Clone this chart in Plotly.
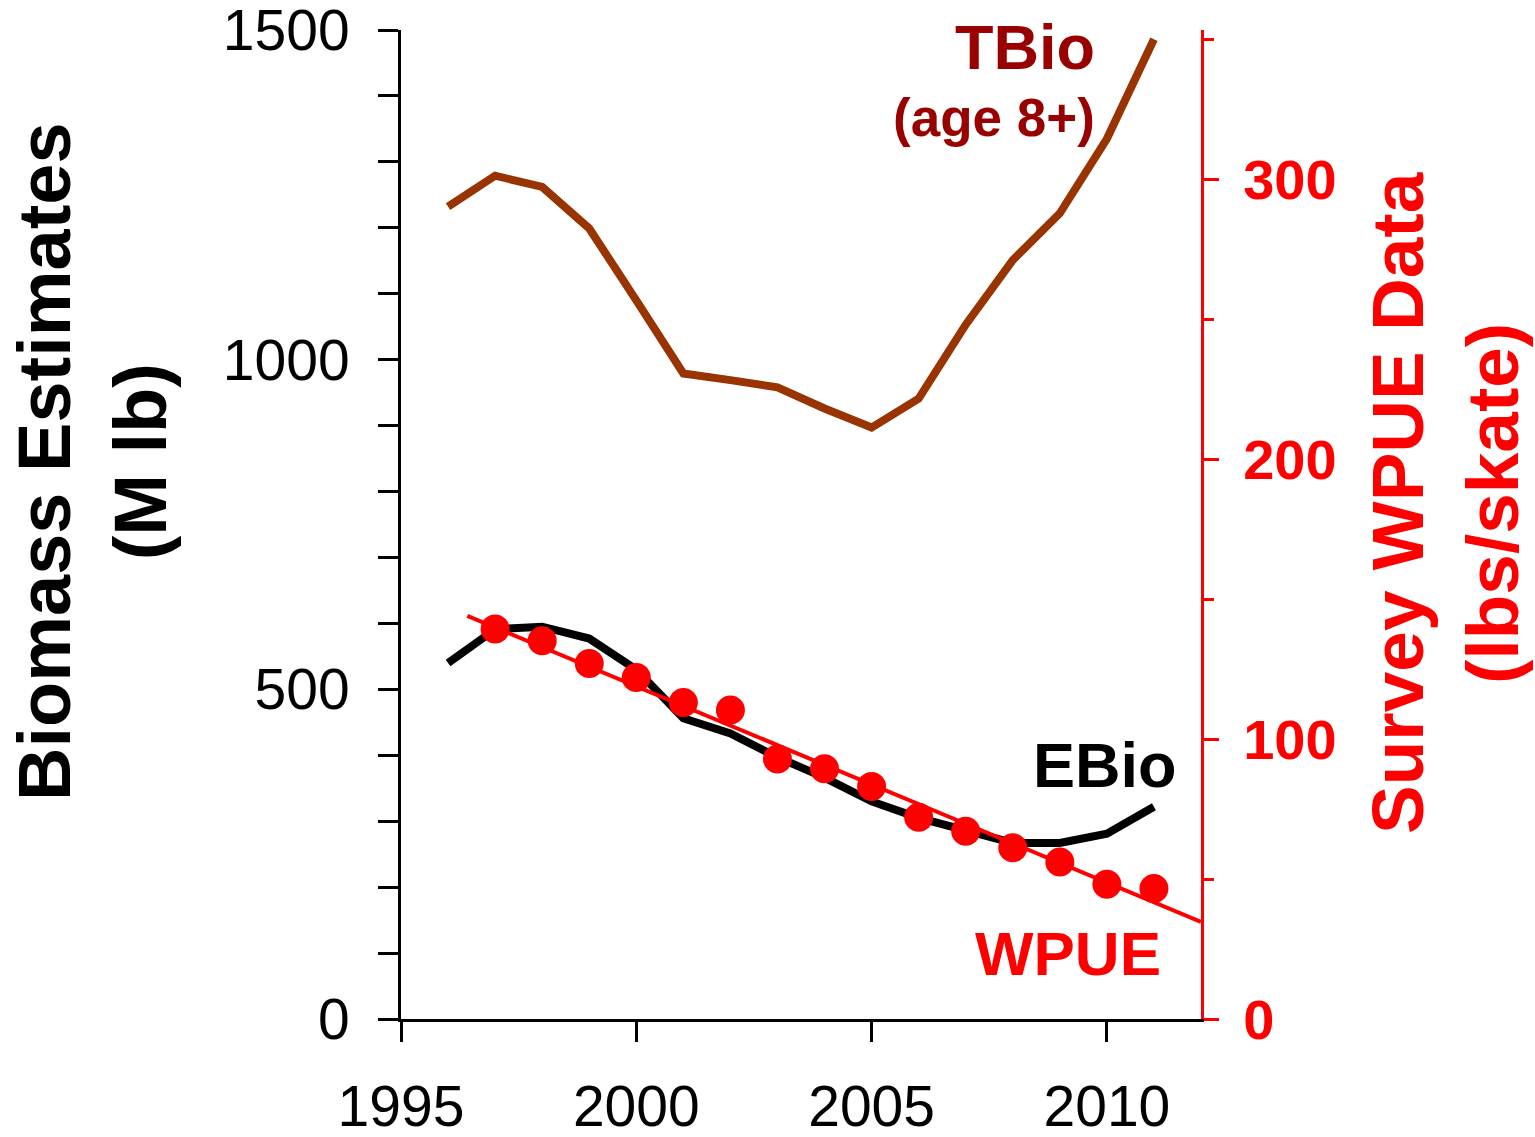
import plotly.graph_objects as go

# ---- data ----
years = [1996, 1997, 1998, 1999, 2000, 2001, 2002, 2003, 2004, 2005, 2006, 2007, 2008, 2009, 2010, 2011]
tbio = [1232, 1279, 1262, 1199, 1090, 979, 969, 958, 926, 897, 941, 1053, 1151, 1222, 1335, 1486]
ebio = [540, 591, 595, 577, 530, 456, 433, 397, 366, 330, 305, 285, 267, 267, 281, 322]

wpue_years = [1997, 1998, 1999, 2000, 2001, 2002, 2003, 2004, 2005, 2006, 2007, 2008, 2009, 2010, 2011]
wpue = [139.3, 135.1, 127.0, 122.0, 113.1, 110.4, 92.9, 89.4, 83.1, 72.1, 67.1, 61.2, 56.1, 48.1, 46.6]

trend_x = [1996.41, 2012.0]
trend_y = [144.0, 34.7]

x_tickvals = [1995, 2000, 2005, 2010]
x_ticktext = ["1995", "2000", "2005", "2010"]
y_tickvals = [0, 100, 200, 300, 400, 500, 600, 700, 800, 900, 1000, 1100, 1200, 1300, 1400, 1500]
y_ticktext = ["0", "", "", "", "", "500", "", "", "", "", "1000", "", "", "", "", "1500"]
y2_tickvals = [0, 100, 200, 300]
y2_ticktext = ["0", "100", "200", "300"]

FONT = "Liberation Sans, Arial, sans-serif"
RED = "#FF0000"

fig = go.Figure()
fig.add_trace(go.Scatter(x=years, y=tbio, mode="lines",
                         line=dict(color="#993300", width=8), yaxis="y", showlegend=False))
fig.add_trace(go.Scatter(x=years, y=ebio, mode="lines",
                         line=dict(color="#000000", width=8), yaxis="y", showlegend=False))
fig.add_trace(go.Scatter(x=trend_x, y=trend_y, mode="lines",
                         line=dict(color=RED, width=4), yaxis="y2", showlegend=False))
fig.add_trace(go.Scatter(x=wpue_years, y=wpue, mode="markers",
                         marker=dict(color=RED, size=29), yaxis="y2", showlegend=False,
                         cliponaxis=False))

W, H = 1535, 1137
L, R, T, B = 401, 1201, 30, 1019


def px(xp):
    return (xp - L) / (R - L)


def py(yp):
    return (B - yp) / (B - T)


fig.update_layout(
    width=W, height=H,
    margin=dict(l=L, r=W - R, t=T, b=H - B, pad=0, autoexpand=False),
    paper_bgcolor="white", plot_bgcolor="white",
    font=dict(family=FONT, color="black"),
    xaxis=dict(range=[1995, 2012], tickvals=x_tickvals, ticktext=x_ticktext,
               ticks="outside", ticklen=20, tickwidth=3, tickcolor="black",
               showline=True, linewidth=3, linecolor="black",
               showgrid=False, zeroline=False, automargin=False,
               tickfont=dict(family=FONT, size=57, color="black"),
               ticklabelstandoff=16, ticklabeloverflow="allow"),
    yaxis=dict(range=[0, 1500], tickvals=y_tickvals, ticktext=y_ticktext,
               ticks="outside", ticklen=20, tickwidth=3, tickcolor="black",
               showline=True, linewidth=3, linecolor="black",
               showgrid=False, zeroline=False, automargin=False,
               tickfont=dict(family=FONT, size=57, color="black"),
               ticklabelstandoff=17, ticklabeloverflow="allow"),
    yaxis2=dict(range=[0, 353.3], overlaying="y", side="right",
                tickvals=y2_tickvals, ticktext=y2_ticktext,
                ticks="outside", ticklen=15, tickwidth=3, tickcolor=RED,
                minor=dict(dtick=50, ticks="outside", ticklen=10, tickwidth=3, tickcolor=RED),
                showline=True, linewidth=3, linecolor=RED,
                showgrid=False, zeroline=False, automargin=False,
                tickfont=dict(family=FONT, size=56, color=RED, weight="bold"),
                ticklabelstandoff=13, ticklabeloverflow="allow"),
)

ann = [
    dict(text="Biomass Estimates<br>(M lb)", x=px(93), y=py(462), textangle=-90,
         font=dict(size=74, color="black", weight="bold")),
    dict(text="Survey WPUE Data<br>(lbs/skate)", x=px(1445), y=py(503), textangle=-90,
         font=dict(size=73, color=RED, weight="bold")),
    dict(text="TBio", x=px(1097), y=py(47), xanchor="right",
         font=dict(size=63, color="#990000", weight="bold")),
    dict(text="(age 8+)", x=px(1097), y=py(118), xanchor="right",
         font=dict(size=53, color="#990000", weight="bold")),
    dict(text="EBio", x=px(1179), y=py(765), xanchor="right",
         font=dict(size=63, color="black", weight="bold")),
    dict(text="WPUE", x=px(1163), y=py(953), xanchor="right",
         font=dict(size=62, color=RED, weight="bold")),
]
for a in ann:
    a.setdefault("xanchor", "center")
    a.update(xref="paper", yref="paper", yanchor="middle", showarrow=False)
    a["font"]["family"] = FONT
    fig.add_annotation(**a)

fig.write_html("out.html")
